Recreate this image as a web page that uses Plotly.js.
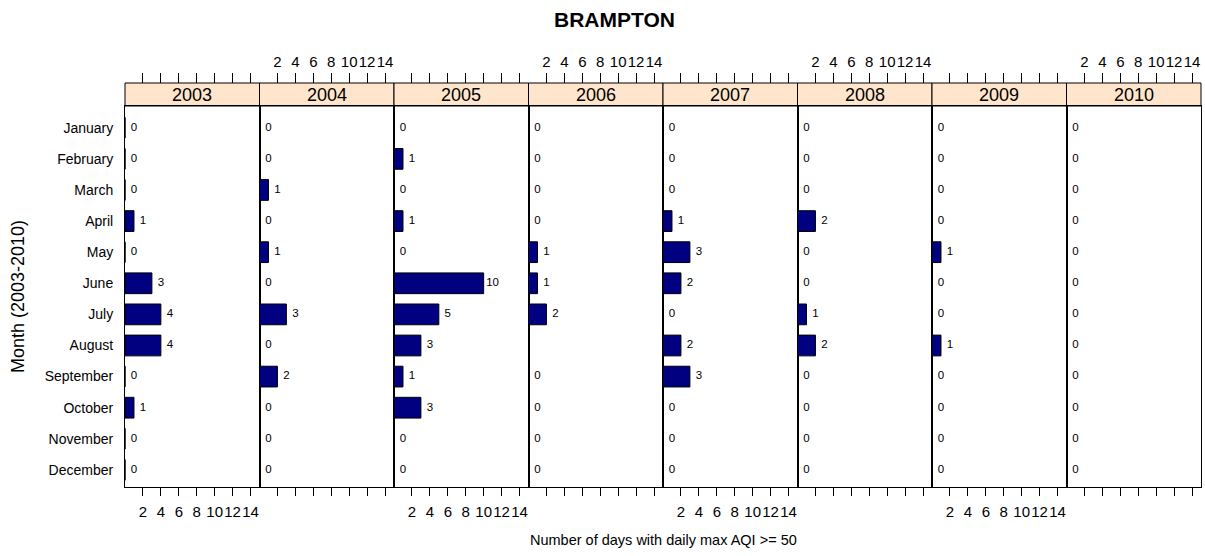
<!DOCTYPE html>
<html>
<head>
<meta charset="utf-8">
<script src="https://cdn.plot.ly/plotly-3.0.1.min.js"></script>
<style>html,body{margin:0;padding:0;background:#fff;}#chart{width:1205px;height:556px;}</style>
</head>
<body>
<div id="chart"></div>
<script>
const title = 'BRAMPTON';
const xTitle = 'Number of days with daily max AQI >= 50';
const yTitle = 'Month (2003-2010)';
const years = ['2003','2004','2005','2006','2007','2008','2009','2010'];
const months = ['January','February','March','April','May','June','July','August','September','October','November','December'];
const tickValues = [2,4,6,8,10,12,14];
const v2003 = [0,0,0,1,0,3,4,4,0,1,0,0];
const v2004 = [0,0,1,0,1,0,3,0,2,0,0,0];
const v2005 = [0,1,0,1,0,10,5,3,1,3,0,0];
const v2006 = [0,0,0,0,1,1,2,null,0,0,0,0];
const v2007 = [0,0,0,1,3,2,0,2,3,0,0,0];
const v2008 = [0,0,0,2,0,0,1,2,0,0,0,0];
const v2009 = [0,0,0,0,1,0,0,1,0,0,0,0];
const v2010 = [0,0,0,0,0,0,0,0,0,0,0,0];
const series = [v2003,v2004,v2005,v2006,v2007,v2008,v2009,v2010];

const FONT = 'Liberation Sans, Arial, sans-serif';
const n = years.length;
const plotH = 404;         // px from strip top to panel bottom
const stripH = 23;
const yTop = (plotH - stripH) / plotH;
const XMAX = 15;

const traces = [];
const layout = {
  width: 1205, height: 556,
  margin: {l: 125, r: 4, t: 83, b: 69},
  paper_bgcolor: '#fff', plot_bgcolor: '#fff',
  showlegend: false,
  font: {family: FONT, color: '#000', size: 12},
  shapes: [], annotations: [],
  yaxis: {
    domain: [0, yTop], anchor: 'x', type: 'category',
    categoryorder: 'array', categoryarray: months,
    range: [11.55, -0.7], autorange: false,
    showline: true, mirror: 'all', linecolor: '#000', linewidth: 1,
    ticks: '', showgrid: false, zeroline: false,
    tickfont: {family: FONT, size: 14, color: '#000'},
    ticklabelstandoff: 8
  }
};

series.forEach((vals, i) => {
  const xa = i === 0 ? 'x' : 'x' + (i + 1);
  const xaTop = 'x' + (i + 1 + n);
  const keyB = i === 0 ? 'xaxis' : 'xaxis' + (i + 1);
  const keyT = 'xaxis' + (i + 1 + n);
  const d0 = i / n, d1 = (i + 1) / n;
  traces.push({
    type: 'bar', orientation: 'h', x: vals, y: months,
    xaxis: xa, yaxis: 'y', width: 0.667,
    marker: {color: '#000080', line: {color: '#000', width: 1}},
    hoverinfo: 'skip'
  });
  traces.push({
    type: 'scatter', mode: 'text',
    x: vals.map(v => v == null ? null : v + 1), y: months,
    text: vals.map(v => v == null ? '' : String(v)),
    textposition: 'middle center',
    textfont: {family: FONT, size: 11.5, color: '#000'},
    xaxis: xa, yaxis: 'y', hoverinfo: 'skip', cliponaxis: false
  });
  traces.push({
    type: 'scatter', mode: 'markers', x: [null], y: [null],
    xaxis: xaTop, yaxis: 'y', hoverinfo: 'skip'
  });
  layout[keyB] = {
    domain: [d0, d1], anchor: 'y', range: [0, XMAX], autorange: false,
    showline: true, mirror: true, linecolor: '#000', linewidth: 1,
    ticks: 'outside', ticklen: 8, tickcolor: '#000', tickwidth: 1,
    tickmode: 'array', tickvals: tickValues, ticktext: tickValues.map(String),
    showticklabels: i % 2 === 0, tickangle: 0,
    tickfont: {family: FONT, size: 15, color: '#000'},
    ticklabelstandoff: 3,
    showgrid: false, zeroline: false, fixedrange: true
  };
  layout[keyT] = {
    overlaying: xa, side: 'top', anchor: 'free', position: 1,
    range: [0, XMAX], autorange: false,
    showline: false,
    ticks: 'outside', ticklen: 10, tickcolor: '#000', tickwidth: 1,
    tickmode: 'array', tickvals: tickValues, ticktext: tickValues.map(String),
    showticklabels: i % 2 === 1, tickangle: 0,
    tickfont: {family: FONT, size: 15, color: '#000'},
    ticklabelstandoff: 0,
    showgrid: false, zeroline: false, fixedrange: true
  };
  layout.shapes.push({
    type: 'rect', xref: 'paper', yref: 'paper',
    x0: d0, x1: d1, y0: yTop, y1: 1,
    fillcolor: '#FFE5CC', line: {color: '#000', width: 1}, layer: 'below'
  });
  layout.annotations.push({
    xref: 'paper', yref: 'paper', x: (d0 + d1) / 2, y: (yTop + 1) / 2,
    text: years[i], showarrow: false, xanchor: 'center', yanchor: 'middle',
    font: {family: FONT, size: 18, color: '#000'}
  });
});

layout.annotations.push({
  xref: 'paper', yref: 'paper', x: (614 - 125) / 1076, y: (487 - 19) / plotH,
  text: '<b>' + title + '</b>', showarrow: false, xanchor: 'center', yanchor: 'middle',
  font: {family: FONT, size: 21, color: '#000'}
});
layout.annotations.push({
  xref: 'paper', yref: 'paper', x: (663 - 125) / 1076, y: (487 - 540) / plotH,
  text: xTitle, showarrow: false, xanchor: 'center', yanchor: 'middle',
  font: {family: FONT, size: 14.5, color: '#000'}
});
layout.annotations.push({
  xref: 'paper', yref: 'paper', x: (18 - 125) / 1076, y: (487 - 297) / plotH,
  text: yTitle, showarrow: false, textangle: -90, xanchor: 'center', yanchor: 'middle',
  font: {family: FONT, size: 18, color: '#000'}
});

Plotly.newPlot('chart', traces, layout, {displayModeBar: false, staticPlot: true});
</script>
</body>
</html>
